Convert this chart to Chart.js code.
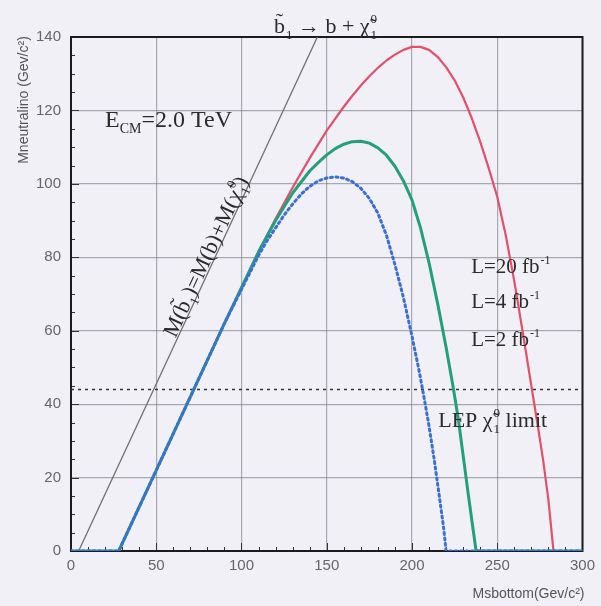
<!DOCTYPE html>
<html>
<head>
<meta charset="utf-8">
<script src="https://cdn.jsdelivr.net/npm/chart.js@4.4.1/dist/chart.umd.min.js"></script>
<style>
  html, body { margin: 0; padding: 0; background: #f0f0f6; }
  #wrap { width: 601px; height: 606px; }
</style>
</head>
<body>
<div id="wrap"><canvas id="c" width="601" height="606"></canvas></div>
<script>
// Sbottom mass (GeV/c^2) versus neutralino mass reach (GeV/c^2), one pair per luminosity
const massL20  = [0, 28, 60, 90, 110, 120, 130, 140, 150, 160, 165, 170, 175, 180, 185, 190, 195, 200, 205, 210, 215, 220, 225, 230, 235, 240, 245, 250, 255, 260, 265, 270, 274, 277, 280, 283, 300];
const reachL20 = [0, 0, 32, 62, 81.5, 90.5, 99, 107, 114.5, 121, 124, 126.8, 129.3, 131.6, 133.6, 135.2, 136.5, 137.3, 137.3, 136.5, 134.6, 131.8, 128.2, 123.6, 118, 111.5, 104.3, 96.5, 86, 73.5, 59.5, 45, 33.5, 24.5, 14, 0, 0];

const massL4   = [0, 28, 60, 90, 110, 120, 130, 140, 145, 150, 155, 160, 165, 170, 175, 180, 185, 190, 195, 200, 205, 210, 215, 220, 224, 227, 230, 233, 235.5, 237.6, 300];
const reachL4  = [0, 0, 32, 62, 81.5, 90, 97.5, 103.5, 105.8, 107.9, 109.6, 110.8, 111.5, 111.6, 111.1, 109.8, 107.8, 104.8, 100.8, 95.6, 88, 78.5, 67.5, 55.5, 45, 36.5, 26, 15.5, 7, 0, 0];

const massL2   = [0, 28, 60, 90, 110, 115, 120, 125, 130, 135, 140, 145, 150, 155, 160, 165, 170, 175, 180, 185, 190, 195, 200, 204, 207, 210, 213, 216, 218.5, 220, 300];
const reachL2  = [0, 0, 32, 62, 80.5, 84.5, 88, 91.5, 94.5, 97.2, 99.3, 100.8, 101.6, 101.9, 101.6, 100.6, 98.8, 96, 92, 86, 78, 69, 58.5, 49.5, 42, 34, 25, 15, 6.5, 0, 0];

// Kinematic limit M(b~1) = M(b) + M(chi~1^0)
const kinMass  = [4.5, 144.5];
const kinReach = [0, 140];

// LEP neutralino mass limit
const lepMass  = [0, 300];
const lepReach = [44, 44];

// Axis ticks
const xTicks = [0, 50, 100, 150, 200, 250, 300];
const yTicks = [0, 20, 40, 60, 80, 100, 120, 140];

// Luminosity labels, top to bottom
const lumiLabels = ['L=20 fb', 'L=4 fb', 'L=2 fb'];

const pts = (xs, ys) => xs.map((v, i) => ({ x: v, y: ys[i] }));

const SERIF = '"Liberation Serif", "DejaVu Serif", serif';
const SANS = '"Liberation Sans", Arial, sans-serif';
const INK = '#2b2b2b';

// Draws a run of text pieces (normal, sub, sup, stacked sub+sup) on one baseline
function drawRuns(ctx, runs, x, y, align) {
  const widthOf = r => {
    ctx.font = r.s + 'px ' + SERIF;
    if (r.sub !== undefined || r.sup !== undefined) {
      return Math.max(ctx.measureText(r.sub || '').width, ctx.measureText(r.sup || '').width) + 1;
    }
    return ctx.measureText(r.t).width;
  };
  let total = 0;
  runs.forEach(r => total += widthOf(r));
  let cx = align === 'center' ? x - total / 2 : x;
  ctx.textAlign = 'left';
  ctx.textBaseline = 'alphabetic';
  runs.forEach(r => {
    const w = widthOf(r);
    ctx.font = r.s + 'px ' + SERIF;
    if (r.sub !== undefined || r.sup !== undefined) {
      if (r.sub !== undefined) ctx.fillText(r.sub, cx + 1, y + r.s * 0.45);
      if (r.sup !== undefined) ctx.fillText(r.sup, cx + 1, y - r.s * 0.75);
    } else {
      ctx.fillText(r.t, cx, y + (r.dy || 0));
    }
    cx += w;
  });
}

const decor = {
  id: 'decor',
  beforeDraw(chart) {
    const { ctx, width, height } = chart;
    ctx.save();
    ctx.fillStyle = '#f0f0f6';
    ctx.fillRect(0, 0, width, height);
    ctx.restore();
  },
  beforeDatasetsDraw(chart) {
    const { ctx, chartArea: a, scales: { x, y } } = chart;
    ctx.save();
    ctx.strokeStyle = '#333';
    ctx.lineWidth = 1;
    // small inner ticks along the left and bottom axes
    for (let v = 0; v <= 140; v += 5) {
      const py = Math.round(y.getPixelForValue(v)) + 0.5;
      const len = v % 20 === 0 ? 8 : 4;
      ctx.beginPath(); ctx.moveTo(a.left, py); ctx.lineTo(a.left + len, py); ctx.stroke();
    }
    for (let v = 0; v <= 300; v += 10) {
      const px = Math.round(x.getPixelForValue(v)) + 0.5;
      const len = v % 50 === 0 ? 8 : 4;
      ctx.beginPath(); ctx.moveTo(px, a.bottom); ctx.lineTo(px, a.bottom - len); ctx.stroke();
    }
    // plot frame
    ctx.strokeStyle = '#1c1c1c';
    ctx.lineWidth = 2;
    ctx.strokeRect(a.left, a.top, a.right - a.left, a.bottom - a.top);
    ctx.restore();
  },
  afterDraw(chart) {
    const { ctx, chartArea: a, scales: { x, y } } = chart;
    ctx.save();

    // axis titles
    ctx.fillStyle = '#555';
    ctx.font = '14px ' + SANS;
    ctx.save();
    ctx.translate(24, 100);
    ctx.rotate(-Math.PI / 2);
    ctx.textAlign = 'center';
    ctx.textBaseline = 'middle';
    ctx.fillText('Mneutralino (Gev/c\u00b2)', 0, 0);
    ctx.restore();
    ctx.textAlign = 'right';
    ctx.textBaseline = 'middle';
    ctx.fillText('Msbottom(Gev/c\u00b2)', a.right + 2, 594);

    ctx.fillStyle = INK;

    // decay channel above the frame
    drawRuns(ctx, [
      { t: 'b\u0303', s: 22 }, { sub: '1', s: 13 },
      { t: ' \u2192 b + \u03c7\u0303', s: 22 }, { sub: '1', sup: '0', s: 13 }
    ], x.getPixelForValue(119), a.top - 4, 'left');

    // centre-of-mass energy
    drawRuns(ctx, [
      { t: 'E', s: 24 }, { t: 'CM', s: 14, dy: 6 }, { t: '=2.0 TeV', s: 24 }
    ], x.getPixelForValue(20), y.getPixelForValue(115.5), 'left');

    // kinematic limit label, laid along the grey line
    const ang = Math.atan2(y.getPixelForValue(100) - y.getPixelForValue(0),
                           x.getPixelForValue(100) - x.getPixelForValue(0));
    ctx.save();
    ctx.translate(x.getPixelForValue(78.5), y.getPixelForValue(80.3));
    ctx.rotate(ang);
    drawRuns(ctx, [
      { t: 'M(b\u0303', s: 22 }, { sub: '1', s: 13 }, { t: ')=M(b)+M(\u03c7\u0303', s: 22 },
      { sub: '1', sup: '0', s: 13 }, { t: ')', s: 22 }
    ], 0, 8, 'center');
    ctx.restore();

    // luminosity labels
    const lumiY = [75.7, 66.2, 55.8];
    lumiLabels.forEach((lab, i) => {
      drawRuns(ctx, [{ t: lab, s: 21 }, { sup: '-1', s: 12 }],
        x.getPixelForValue(234.7), y.getPixelForValue(lumiY[i]), 'left');
    });

    // LEP limit label
    drawRuns(ctx, [
      { t: 'LEP \u03c7\u0303', s: 22 }, { sub: '1', sup: '0', s: 13 }, { t: ' limit', s: 22 }
    ], x.getPixelForValue(215.4), y.getPixelForValue(33.8), 'left');

    ctx.restore();
  }
};

const lineDefaults = { pointRadius: 0, fill: false, tension: 0, borderJoinStyle: 'round' };

new Chart(document.getElementById('c'), {
  type: 'line',
  data: {
    datasets: [
      Object.assign({ label: 'L=2 fb-1', data: pts(massL2, reachL2), borderColor: '#3b6fd6',
        borderWidth: 3, borderDash: [2, 3.5], borderCapStyle: 'round' }, lineDefaults),
      Object.assign({ label: 'L=4 fb-1', data: pts(massL4, reachL4), borderColor: '#22a07a',
        borderWidth: 3 }, lineDefaults),
      Object.assign({ label: 'L=20 fb-1', data: pts(massL20, reachL20), borderColor: '#e2506a',
        borderWidth: 2.2 }, lineDefaults),
      Object.assign({ label: 'LEP limit', data: pts(lepMass, lepReach), borderColor: '#333',
        borderWidth: 1.5, borderDash: [3, 4] }, lineDefaults),
      Object.assign({ label: 'Kinematic limit', data: pts(kinMass, kinReach), borderColor: '#707074',
        borderWidth: 1.3 }, lineDefaults)
    ]
  },
  options: {
    responsive: false,
    animation: false,
    devicePixelRatio: 1,
    layout: { padding: { top: 37, right: 16, left: 0, bottom: 0 } },
    plugins: { legend: { display: false }, tooltip: { enabled: false } },
    scales: {
      x: {
        type: 'linear', min: 0, max: 300,
        afterBuildTicks: s => { s.ticks = xTicks.map(v => ({ value: v })); },
        afterFit: s => { s.height = 55; },
        ticks: { font: { size: 15, family: SANS }, color: '#666', padding: 6 },
        grid: { color: 'rgba(110,110,120,0.55)', lineWidth: 1.2, drawTicks: false },
        border: { display: false }
      },
      y: {
        min: 0, max: 140,
        afterBuildTicks: s => { s.ticks = yTicks.map(v => ({ value: v })); },
        afterFit: s => { s.width = 71; },
        ticks: { font: { size: 15, family: SANS }, color: '#666', padding: 10 },
        grid: { color: 'rgba(110,110,120,0.55)', lineWidth: 1.2, drawTicks: false },
        border: { display: false }
      }
    }
  },
  plugins: [decor]
});
</script>
</body>
</html>
